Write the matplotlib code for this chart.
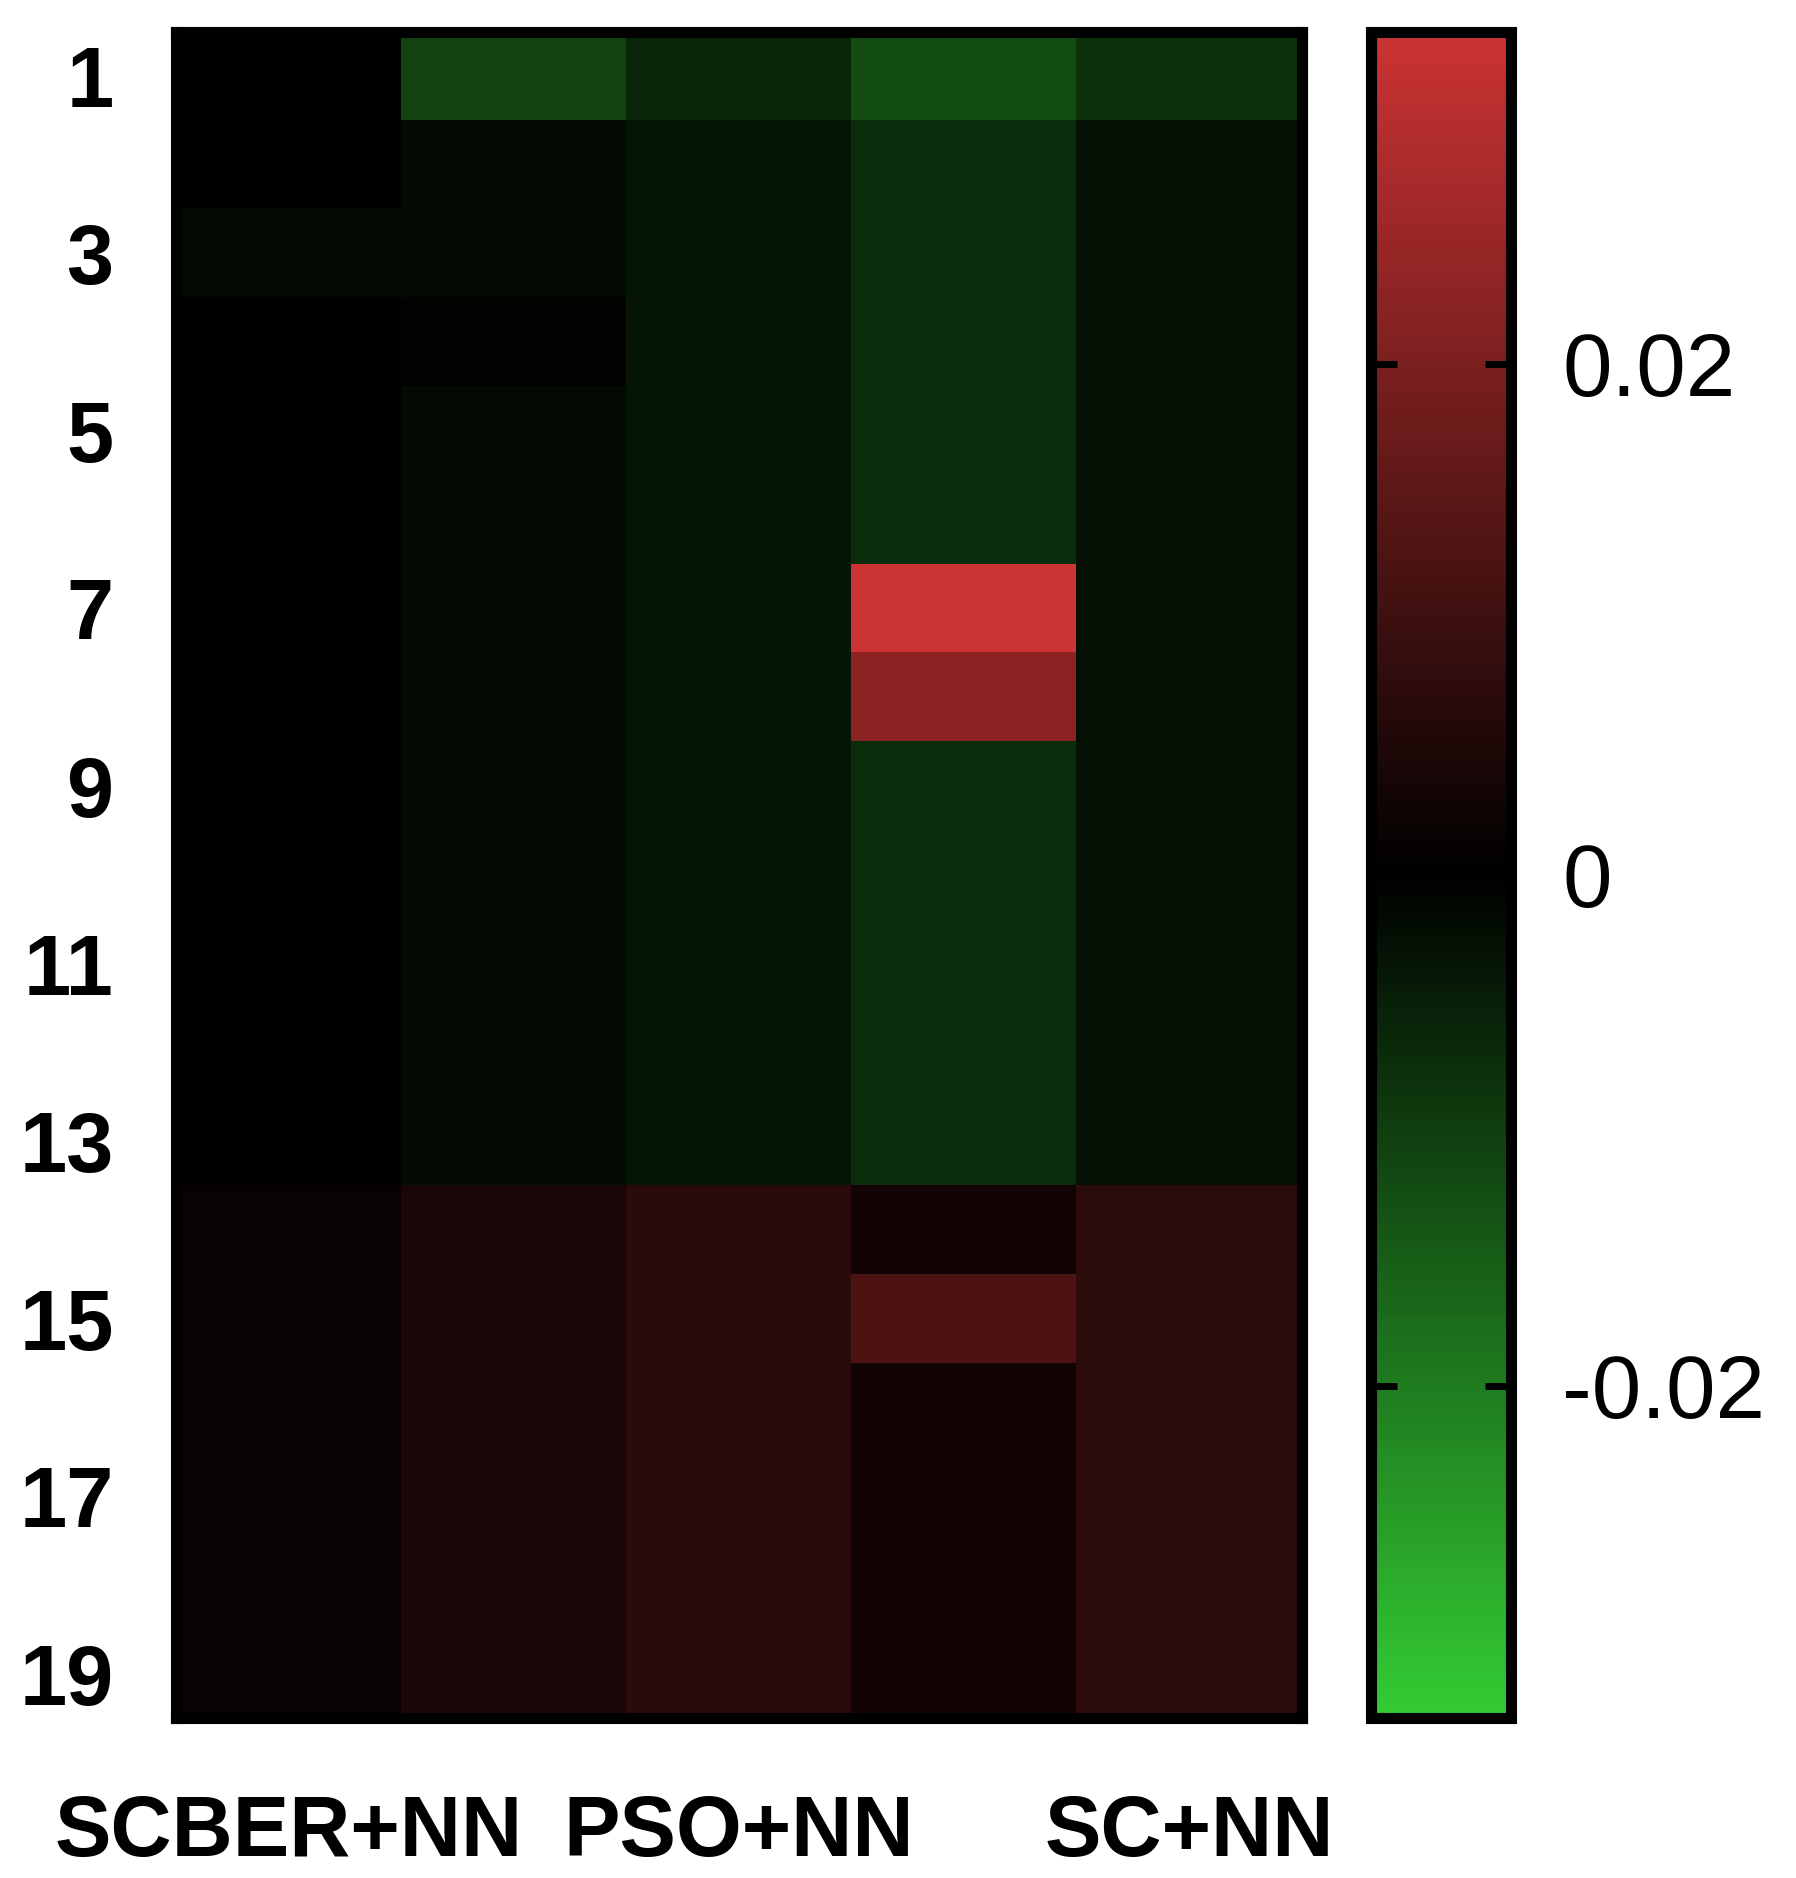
import numpy as np
import matplotlib
matplotlib.use("Agg")
import matplotlib.pyplot as plt
from matplotlib.colors import LinearSegmentedColormap

# rows 1..19, one list per method (column)
rows = list(range(1, 20))
col_labels = ["SCBER+NN", "", "PSO+NN", "", "SC+NN"]

col1 = [0.0, 0.0, -0.0013, 0.0, 0.0, 0.0, 0.0, 0.0, 0.0, 0.0, 0.0, 0.0, 0.0,
        0.0013, 0.0013, 0.0013, 0.0013, 0.0013, 0.0013]
col2 = [-0.011, -0.0016, -0.0016, 0.0006, -0.0016, -0.0016, -0.0016, -0.0016,
        -0.0016, -0.0016, -0.0016, -0.0016, -0.0016,
        0.0042, 0.0042, 0.0042, 0.0042, 0.0042, 0.0042]
col3 = [-0.006, -0.0036, -0.0036, -0.0036, -0.0036, -0.0036, -0.0036, -0.0036,
        -0.0036, -0.0036, -0.0036, -0.0036, -0.0036,
        0.0068, 0.0068, 0.0068, 0.0068, 0.0068, 0.0068]
col4 = [-0.0126, -0.007, -0.007, -0.007, -0.007, -0.007, 0.033, 0.0226,
        -0.007, -0.007, -0.007, -0.007, -0.007,
        0.0029, 0.0126, 0.0029, 0.0029, 0.0029, 0.0029]
col5 = [-0.0082, -0.0027, -0.0027, -0.0027, -0.0027, -0.0027, -0.0027, -0.0027,
        -0.0027, -0.0027, -0.0027, -0.0027, -0.0027,
        0.0071, 0.0071, 0.0071, 0.0071, 0.0071, 0.0071]

cbar_ticks = [-0.02, 0, 0.02]
cbar_labels = ["-0.02", "0", "0.02"]
vlim = 0.033

data = np.array([col1, col2, col3, col4, col5]).T

plt.rcParams["font.family"] = ["Liberation Sans", "DejaVu Sans"]

cmap = LinearSegmentedColormap.from_list(
    "gkr", [(0.2, 0.8, 0.2), (0, 0, 0), (0.8, 0.2, 0.2)])

fig = plt.figure(figsize=(17.96, 18.78), dpi=100)
ax = fig.add_axes([0.098, 0.0852, 0.6267, 0.898])
cax = fig.add_axes([0.7631, 0.0852, 0.0782, 0.898])

im = ax.imshow(data, cmap=cmap, vmin=-vlim, vmax=vlim, aspect="auto",
               interpolation="nearest")

ax.set_yticks(range(0, len(rows), 2))
ax.set_yticklabels([str(r) for r in rows[::2]], fontsize=61, fontweight="bold")
ax.set_xticks(range(len(col_labels)))
ax.set_xticklabels(col_labels, fontsize=61, fontweight="bold")
ax.tick_params(axis="y", length=0, pad=45)
ax.tick_params(axis="x", length=0, pad=55)
for s in ax.spines.values():
    s.set_linewidth(8)
    s.set_color("black")

cb = fig.colorbar(im, cax=cax, ticks=cbar_ticks)
cb.set_ticklabels(cbar_labels)
cb.outline.set_linewidth(8)
cax.tick_params(direction="in", left=True, right=True, length=19, width=5,
                labelsize=64, pad=37)

fig.savefig("out.png", dpi=100)
